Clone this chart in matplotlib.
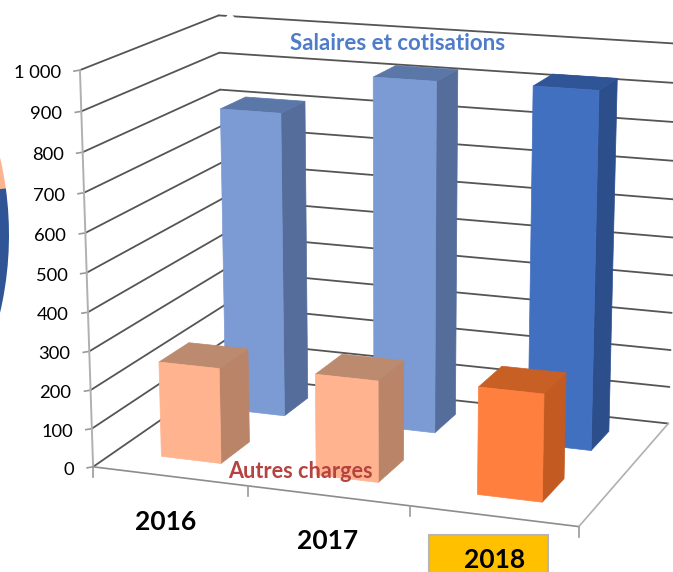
import numpy as np
import matplotlib
matplotlib.use('Agg')
import matplotlib.pyplot as plt
from matplotlib.patches import Wedge, Rectangle

plt.rcParams['font.family'] = ['Lato', 'DejaVu Sans']

years = ['2016', '2017', '2018']
salaires = [810, 920, 925]
autres = [248, 260, 272]
tick_values = [0, 100, 200, 300, 400, 500, 600, 700, 800, 900, 1000]
tick_labels = ['0', '100', '200', '300', '400', '500', '600', '700', '800', '900', '1 000']

# colours per year: front, side, top
salaires_colors = [('#7c9ad4', '#546d9b', '#5b77a8'),
                   ('#7c9ad4', '#546d9b', '#5b77a8'),
                   ('#4270c0', '#2c4f8c', '#2f5597')]
autres_colors = [('#ffb38f', '#b98468', '#bc8a6e'),
                 ('#ffb38f', '#b98468', '#bc8a6e'),
                 ('#ff7f3f', '#c25a22', '#c85f25')]

# fit a camera from the corners of the chart box: (cat, depth, value) -> pixel
frame = [((0, 0, 0), (93, 467)), ((3, 0, 0), (579, 527)), ((3, 1, 0), (668, 423)),
         ((0, 1, 0), (227, 376)), ((0, 0, 1000), (80, 71)), ((0, 1, 1000), (218, 15)),
         ((3, 1, 1000), (680, 44.5)), ((1, 0, 0), (248, 486)), ((2, 0, 0), (410, 506)),
         ((0, 0, 900), (82, 111)), ((0, 0, 500), (87, 272)), ((0, 0, 100), (91, 428)),
         ((3, 1, 900), (679, 83)), ((3, 1, 500), (674, 237)), ((3, 1, 100), (669, 387)),
         ((0, 1, 500), (221, 199))]
rows = []
rhs = []
for (a, b, c), (u, v) in frame:
    rows.append([a, b, c, 1, 0, 0, 0, 0, -u * a, -u * b, -u * c])
    rows.append([0, 0, 0, 0, a, b, c, 1, -v * a, -v * b, -v * c])
    rhs += [u, v]
cam = np.linalg.lstsq(np.array(rows, float), np.array(rhs, float), rcond=None)[0]
cam = np.append(cam, 1).reshape(3, 4)


def proj(a, b, c):
    p = cam @ np.array([a, b, c, 1.0])
    return p[0] / p[2], p[1] / p[2]


def line3d(p, q, **kw):
    u, v = proj(*p), proj(*q)
    ax.plot([u[0], v[0]], [u[1], v[1]], solid_capstyle='round', zorder=2, **kw)


def bar(cat, d0, d1, value, colors, z, center, width):
    x0 = cat + center - width / 2
    x1 = x0 + width
    front = [proj(x0, d0, 0), proj(x1, d0, 0), proj(x1, d0, value), proj(x0, d0, value)]
    side = [proj(x1, d0, 0), proj(x1, d1, 0), proj(x1, d1, value), proj(x1, d0, value)]
    top = [proj(x0, d0, value), proj(x1, d0, value), proj(x1, d1, value), proj(x0, d1, value)]
    for face, col in zip((side, top, front), (colors[1], colors[2], colors[0])):
        ax.add_patch(plt.Polygon(face, closed=True, facecolor=col, edgecolor=col, linewidth=0.5, zorder=z))


fig = plt.figure(figsize=(6.73, 5.72), dpi=100)
ax = fig.add_axes([0, 0, 1, 1])
ax.set_xlim(0, 673)
ax.set_ylim(572, 0)
ax.axis('off')

# bit of the neighbouring pie left in the crop
ax.add_patch(Wedge((-333, 235), 342, -30, -7.85, facecolor='#fbb48e', edgecolor='none'))
ax.add_patch(Wedge((-333, 235), 342, -7.85, 30, facecolor='#2f5597', edgecolor='none'))

# walls
for t in tick_values:
    line3d((0, 0, t), (0, 1, t), color='#555555', lw=1.3)
    line3d((0, 1, t), (3, 1, t), color='#555555', lw=1.3)
    u, v = proj(0, 0, t)
    ax.plot([u - 6, u], [v + 1, v], color='#999999', lw=1.2)
line3d((0, 0, 0), (0, 0, 1000), color='#b0b0b0', lw=1.4)
line3d((0, 0, 0), (3, 0, 0), color='#8c8c8c', lw=1.2)
line3d((3, 0, 0), (3, 1, 0), color='#b0b0b0', lw=1.2)
for i in range(4):
    u, v = proj(i, 0, 0)
    ax.plot([u, u], [v, v + 10], color='#999999', lw=1.2)
ax.fill([226, 230, 234], [18, 13, 18], color='white', zorder=3)

# back row first so the front row covers it
for i in range(3):
    bar(i, 0.66, 0.86, salaires[i], salaires_colors[i], 4 + i, 0.495, 0.40)
for i in range(3):
    bar(i, 0.16, 0.38, autres[i], autres_colors[i], 8 + i, 0.495, 0.39)

for t, lab in zip(tick_values, tick_labels):
    u, v = proj(0, 0, t)
    ax.text(u - 19, v + 3, lab, ha='right', va='center', fontsize=13.2, color='black')

ax.add_patch(Rectangle((429, 535), 119, 40, facecolor='#ffc000', edgecolor='#b5b5b5', linewidth=1.5, zorder=12))
ax.text(166, 522, years[0], ha='center', va='center', fontsize=19, fontweight='bold', zorder=13)
ax.text(328, 541, years[1], ha='center', va='center', fontsize=19, fontweight='bold', zorder=13)
ax.text(495, 560, years[2], ha='center', va='center', fontsize=19, fontweight='bold', zorder=13)

ax.text(398, 43.5, 'Salaires et cotisations', ha='center', va='center', fontsize=16,
        fontweight='bold', color='#4f7cc9', zorder=13)
ax.text(300, 471, 'Autres charges', ha='center', va='center', fontsize=15.6,
        fontweight='bold', color='#b5433f', zorder=13)

fig.savefig('out.png', dpi=100)
